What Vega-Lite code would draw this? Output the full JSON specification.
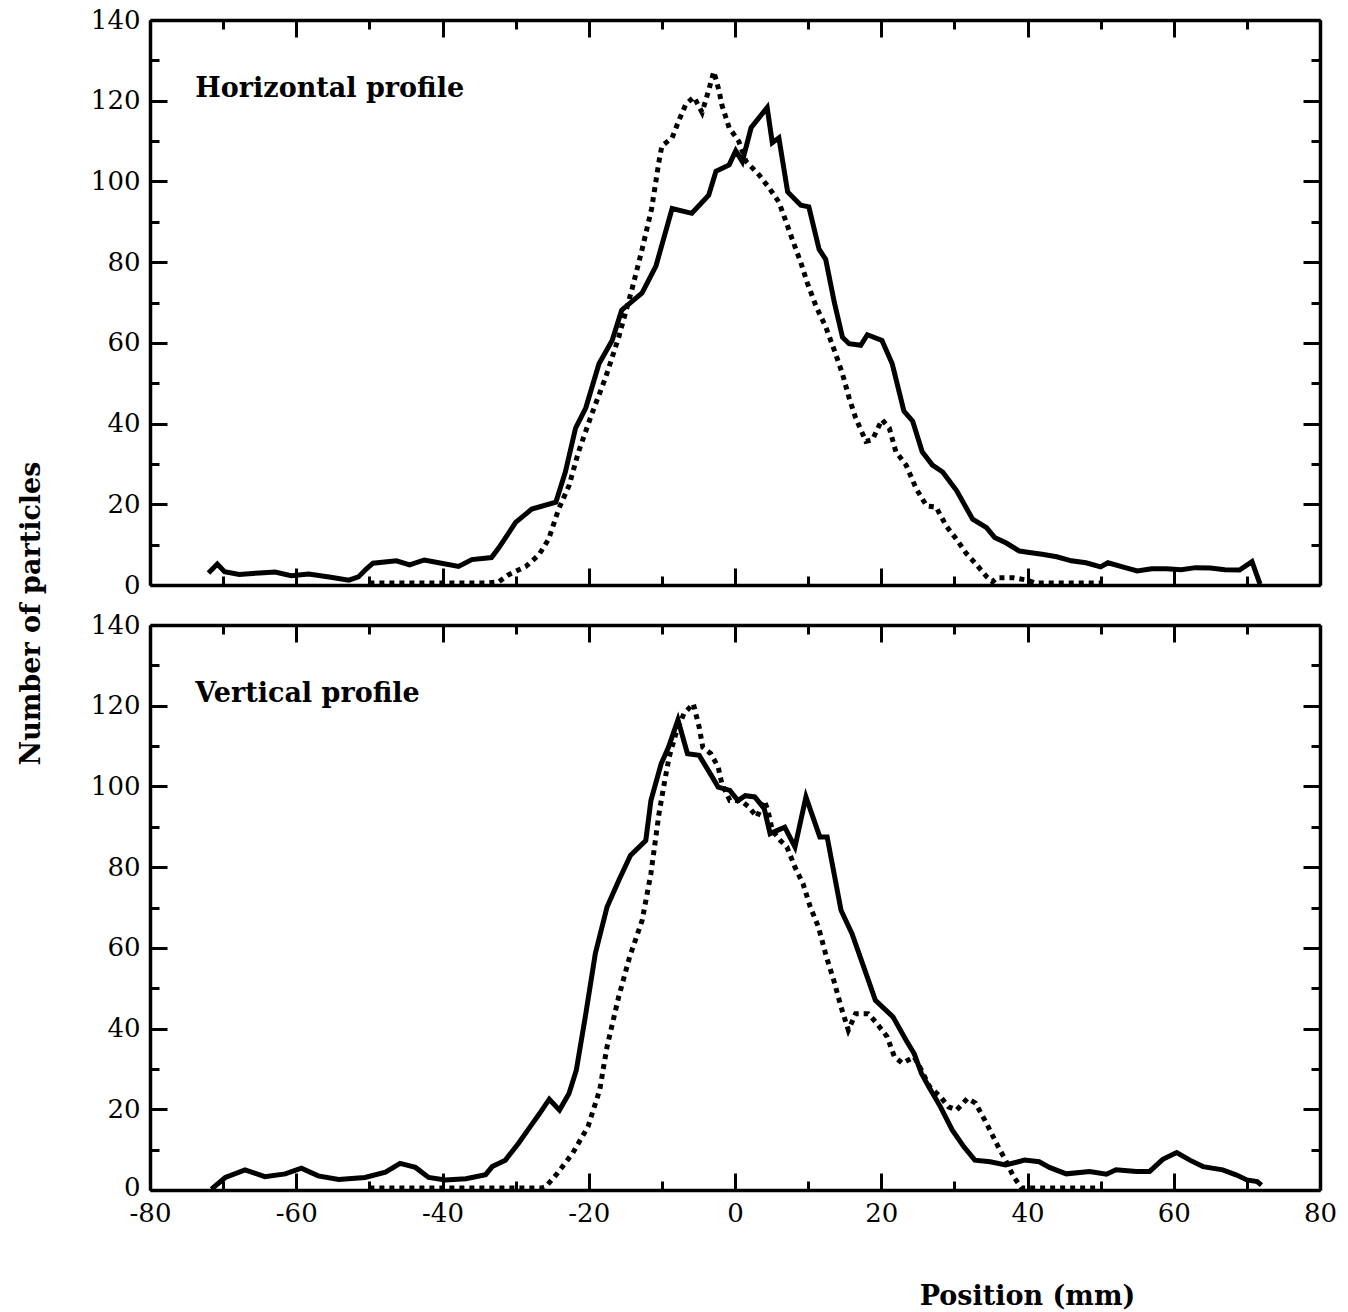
{
  "$schema": "https://vega.github.io/schema/vega-lite/v6.json",
  "padding": {"left": 17, "top": 7, "right": 10, "bottom": 5},
  "background": "white",
  "config": {
    "font": "DejaVu Serif",
    "view": {"stroke": null},
    "line": {"color": "black"},
    "axis": {
      "grid": false,
      "domainColor": "black",
      "domainWidth": 3.5,
      "tickColor": "black",
      "tickWidth": 3,
      "labelColor": "black",
      "labelFont": "DejaVu Serif",
      "labelFontSize": 26,
      "labelFlush": false,
      "labelOverlap": false,
      "labelBound": false,
      "titleFont": "DejaVu Serif",
      "titleFontSize": 27,
      "titleFontWeight": "bold",
      "titleColor": "black"
    }
  },
  "datasets": {
    "hSolid": [
      {"x": -72, "y": 3}, {"x": -70.8, "y": 5.2}, {"x": -69.8, "y": 3.3}, {"x": -67.8, "y": 2.6}, {"x": -65, "y": 3},
      {"x": -62.9, "y": 3.2}, {"x": -60.7, "y": 2.3}, {"x": -58.3, "y": 2.7}, {"x": -55.5, "y": 2}, {"x": -52.8, "y": 1.2},
      {"x": -51.5, "y": 2}, {"x": -50.4, "y": 4}, {"x": -49.5, "y": 5.4}, {"x": -46.3, "y": 6}, {"x": -44.5, "y": 5},
      {"x": -42.5, "y": 6.2}, {"x": -40.5, "y": 5.5}, {"x": -37.8, "y": 4.6}, {"x": -36, "y": 6.3}, {"x": -33.3, "y": 6.8},
      {"x": -32.3, "y": 9.2}, {"x": -30, "y": 15.5}, {"x": -27.8, "y": 18.8}, {"x": -24.5, "y": 20.5}, {"x": -23.2, "y": 28},
      {"x": -21.8, "y": 38.9}, {"x": -20.4, "y": 43.9}, {"x": -18.6, "y": 54.8}, {"x": -16.8, "y": 60.6}, {"x": -15.5, "y": 68.1},
      {"x": -12.7, "y": 72.4}, {"x": -10.8, "y": 79.1}, {"x": -8.6, "y": 93.3}, {"x": -5.9, "y": 92.1}, {"x": -3.6, "y": 96.6},
      {"x": -2.6, "y": 102.5}, {"x": -0.8, "y": 104.1}, {"x": 0.1, "y": 107.6}, {"x": 1.0, "y": 104.9}, {"x": 2.2, "y": 113.3},
      {"x": 4.4, "y": 118.3}, {"x": 5.1, "y": 109.6}, {"x": 6.0, "y": 110.8}, {"x": 7.2, "y": 97.4}, {"x": 9.0, "y": 94.1},
      {"x": 10.1, "y": 93.7}, {"x": 11.5, "y": 83.2}, {"x": 12.4, "y": 80.7}, {"x": 13.6, "y": 69.9}, {"x": 14.7, "y": 61.4},
      {"x": 15.6, "y": 59.8}, {"x": 17.2, "y": 59.4}, {"x": 18.1, "y": 62.0}, {"x": 20.1, "y": 60.6}, {"x": 21.5, "y": 54.8},
      {"x": 23.1, "y": 43.1}, {"x": 24.3, "y": 40.6}, {"x": 25.6, "y": 33.0}, {"x": 27.0, "y": 29.7}, {"x": 28.4, "y": 28.0},
      {"x": 30.3, "y": 23.4}, {"x": 32.5, "y": 16.3}, {"x": 34.4, "y": 14.2}, {"x": 35.5, "y": 11.8}, {"x": 37.1, "y": 10.4},
      {"x": 38.9, "y": 8.4}, {"x": 40.5, "y": 8}, {"x": 42, "y": 7.6}, {"x": 44, "y": 7}, {"x": 46, "y": 6},
      {"x": 48, "y": 5.5}, {"x": 50, "y": 4.5}, {"x": 51, "y": 5.5}, {"x": 53, "y": 4.5}, {"x": 55, "y": 3.5},
      {"x": 57, "y": 4}, {"x": 59, "y": 4}, {"x": 61, "y": 3.8}, {"x": 63, "y": 4.3}, {"x": 65, "y": 4.2},
      {"x": 67, "y": 3.8}, {"x": 69, "y": 3.7}, {"x": 70.7, "y": 5.8}, {"x": 71.8, "y": 0.2}
    ],
    "hDotted": [
      {"x": -50, "y": 0.5}, {"x": -40, "y": 0.5}, {"x": -34, "y": 0.5}, {"x": -32.3, "y": 0.8}, {"x": -31.0, "y": 2.5},
      {"x": -28.6, "y": 4.6}, {"x": -26.8, "y": 7.5}, {"x": -25.5, "y": 11.3}, {"x": -24.1, "y": 18.9}, {"x": -22.7, "y": 24.6},
      {"x": -21.4, "y": 33.0}, {"x": -19.6, "y": 42.3}, {"x": -17.7, "y": 51.4}, {"x": -15.9, "y": 61.4}, {"x": -14.1, "y": 73.2},
      {"x": -12.7, "y": 83.2}, {"x": -11.4, "y": 93.3}, {"x": -10.4, "y": 104.9}, {"x": -10.0, "y": 108.8}, {"x": -8.6, "y": 110.8},
      {"x": -7.7, "y": 115}, {"x": -6.7, "y": 119.2}, {"x": -5.6, "y": 120.9}, {"x": -4.5, "y": 117.1}, {"x": -3.6, "y": 122.6},
      {"x": -2.9, "y": 127.2}, {"x": -2.2, "y": 122.6}, {"x": -1.8, "y": 119}, {"x": -0.8, "y": 113.3}, {"x": 0.5, "y": 110},
      {"x": 1.5, "y": 105}, {"x": 3.3, "y": 101.6}, {"x": 4.7, "y": 98.3}, {"x": 6.0, "y": 94.9}, {"x": 7.0, "y": 89.9},
      {"x": 7.8, "y": 85.8}, {"x": 9.0, "y": 79.9}, {"x": 9.9, "y": 74.8}, {"x": 11.1, "y": 69.0}, {"x": 12.4, "y": 64.0},
      {"x": 13.6, "y": 58.1}, {"x": 14.7, "y": 52.3}, {"x": 15.6, "y": 46.4}, {"x": 16.5, "y": 41.4}, {"x": 17.9, "y": 35.6},
      {"x": 18.8, "y": 36.0}, {"x": 20.1, "y": 41.0}, {"x": 21.1, "y": 38.9}, {"x": 22.0, "y": 33.0}, {"x": 23.4, "y": 29.7},
      {"x": 24.8, "y": 23.8}, {"x": 26.2, "y": 19.6}, {"x": 27.5, "y": 19.3}, {"x": 28.9, "y": 14.6}, {"x": 30.3, "y": 11.3},
      {"x": 31.6, "y": 7.9}, {"x": 33.0, "y": 5.1}, {"x": 34.4, "y": 2.1}, {"x": 35.2, "y": 0.8}, {"x": 35.8, "y": 1.8},
      {"x": 38, "y": 1.8}, {"x": 40, "y": 1.2}, {"x": 41, "y": 0.5}, {"x": 50, "y": 0.5}
    ],
    "vSolid": [
      {"x": -71.6, "y": 0.2}, {"x": -69.7, "y": 3.1}, {"x": -67, "y": 5}, {"x": -64.3, "y": 3.3}, {"x": -61.5, "y": 4},
      {"x": -59.3, "y": 5.4}, {"x": -57, "y": 3.5}, {"x": -54.2, "y": 2.6}, {"x": -50.6, "y": 3.1}, {"x": -47.8, "y": 4.4},
      {"x": -45.8, "y": 6.6}, {"x": -43.7, "y": 5.6}, {"x": -41.9, "y": 3.1}, {"x": -39.6, "y": 2.5}, {"x": -36.8, "y": 2.8},
      {"x": -34.1, "y": 3.8}, {"x": -33.2, "y": 5.8}, {"x": -31.4, "y": 7.4}, {"x": -29.6, "y": 11.6}, {"x": -28.0, "y": 15.7},
      {"x": -26.7, "y": 19.0}, {"x": -25.4, "y": 22.5}, {"x": -24.0, "y": 19.8}, {"x": -22.7, "y": 23.9}, {"x": -21.7, "y": 29.7},
      {"x": -20.4, "y": 43.7}, {"x": -19.1, "y": 58.6}, {"x": -17.5, "y": 70.1}, {"x": -15.9, "y": 76.7}, {"x": -14.3, "y": 82.9},
      {"x": -12.2, "y": 86.6}, {"x": -11.5, "y": 96.5}, {"x": -10.1, "y": 105.6}, {"x": -9.1, "y": 109.7}, {"x": -7.8, "y": 116.5},
      {"x": -6.5, "y": 108.1}, {"x": -4.9, "y": 107.7}, {"x": -3.1, "y": 102.3}, {"x": -2.3, "y": 99.8}, {"x": -0.7, "y": 99.0},
      {"x": 0.4, "y": 96.5}, {"x": 1.4, "y": 97.7}, {"x": 2.7, "y": 97.4}, {"x": 4.0, "y": 94.5}, {"x": 4.8, "y": 88.3},
      {"x": 6.8, "y": 89.9}, {"x": 8.2, "y": 85.0}, {"x": 9.7, "y": 97.4}, {"x": 11.6, "y": 87.5}, {"x": 12.6, "y": 87.5},
      {"x": 14.5, "y": 69.3}, {"x": 16.0, "y": 63.5}, {"x": 17.6, "y": 55.3}, {"x": 19.2, "y": 47.0}, {"x": 21.6, "y": 42.9},
      {"x": 23.4, "y": 37.1}, {"x": 24.5, "y": 33.8}, {"x": 25.5, "y": 28.9}, {"x": 26.5, "y": 25.6}, {"x": 28.1, "y": 20.6},
      {"x": 29.7, "y": 14.9}, {"x": 31.3, "y": 10.7}, {"x": 32.8, "y": 7.4}, {"x": 34.9, "y": 7.0}, {"x": 37.0, "y": 6.2},
      {"x": 39.6, "y": 7.4}, {"x": 41.6, "y": 7.0}, {"x": 43.0, "y": 5.6}, {"x": 45.3, "y": 4.0}, {"x": 48.5, "y": 4.6},
      {"x": 50.8, "y": 3.9}, {"x": 52.1, "y": 5.0}, {"x": 54.9, "y": 4.6}, {"x": 56.7, "y": 4.6}, {"x": 58.5, "y": 7.6},
      {"x": 60.4, "y": 9.3}, {"x": 62.2, "y": 7.4}, {"x": 64.0, "y": 5.8}, {"x": 66.7, "y": 5.0}, {"x": 68.6, "y": 3.7},
      {"x": 70.0, "y": 2.5}, {"x": 71.4, "y": 2.1}, {"x": 72.0, "y": 1.2}
    ],
    "vDotted": [
      {"x": -50, "y": 0.5}, {"x": -30, "y": 0.5}, {"x": -26.4, "y": 0.5}, {"x": -25.9, "y": 0.8}, {"x": -24.3, "y": 4.1},
      {"x": -22.2, "y": 9.1}, {"x": -20.1, "y": 15.7}, {"x": -18.5, "y": 24.8}, {"x": -17.5, "y": 35.5}, {"x": -15.9, "y": 47.9},
      {"x": -14.4, "y": 57.8}, {"x": -12.7, "y": 66.8}, {"x": -11.5, "y": 78.4}, {"x": -10.4, "y": 93.2}, {"x": -9.6, "y": 101.5},
      {"x": -9.0, "y": 107.3}, {"x": -8.1, "y": 113.0}, {"x": -7.0, "y": 118.0}, {"x": -5.7, "y": 120.5}, {"x": -4.9, "y": 114.7},
      {"x": -4.4, "y": 109.7}, {"x": -3.3, "y": 108.1}, {"x": -2.3, "y": 104.8}, {"x": -1.8, "y": 100.7}, {"x": -0.7, "y": 96.5},
      {"x": 0.8, "y": 96.5}, {"x": 1.9, "y": 94.9}, {"x": 3.0, "y": 92.4}, {"x": 4.0, "y": 96.5}, {"x": 4.5, "y": 94.1},
      {"x": 5.1, "y": 89.1}, {"x": 6.2, "y": 86.6}, {"x": 7.1, "y": 85.0}, {"x": 8.2, "y": 80.0}, {"x": 9.3, "y": 75.9},
      {"x": 10.3, "y": 70.1}, {"x": 11.4, "y": 65.2}, {"x": 12.5, "y": 57.8}, {"x": 13.5, "y": 52.0}, {"x": 14.5, "y": 45.4},
      {"x": 15.5, "y": 39.6}, {"x": 16.5, "y": 43.7}, {"x": 18.2, "y": 43.7}, {"x": 19.2, "y": 41.7}, {"x": 20.8, "y": 38.0},
      {"x": 21.8, "y": 33.0}, {"x": 22.9, "y": 31.4}, {"x": 24.5, "y": 33.0}, {"x": 25.5, "y": 29.7}, {"x": 26.6, "y": 25.6},
      {"x": 28.1, "y": 23.1}, {"x": 29.2, "y": 20.6}, {"x": 30.3, "y": 19.8}, {"x": 31.8, "y": 22.7}, {"x": 32.9, "y": 21.5},
      {"x": 34.4, "y": 16.5}, {"x": 36.0, "y": 10.7}, {"x": 37.0, "y": 7.4}, {"x": 38.1, "y": 3.3}, {"x": 39.2, "y": 0.5},
      {"x": 50, "y": 0.5}
    ]
  },
  "vconcat": [
    {
      "width": 1170,
      "height": 565,
      "layer": [
        {
          "data": {"name": "hSolid"},
          "mark": {"type": "line", "color": "black", "strokeWidth": 5, "strokeJoin": "miter"},
          "encoding": {
            "x": {"field": "x", "type": "quantitative", "scale": {"domain": [-80, 80], "nice": false, "zero": false},
              "axis": {"orient": "bottom", "values": [-80,-70,-60,-50,-40,-30,-20,-10,0,10,20,30,40,50,60,70,80], "labels": false, "title": null,
                "tickSize": {"condition": {"test": "datum.value % 20 === 0", "value": -17}, "value": -9}}},
            "y": {"field": "y", "type": "quantitative", "scale": {"domain": [0, 140], "nice": false},
              "axis": {"orient": "left", "values": [0,10,20,30,40,50,60,70,80,90,100,110,120,130,140],
                "labelExpr": "datum.value % 20 === 0 ? '' + datum.value : ''", "labelPadding": 27,
                "tickSize": {"condition": {"test": "datum.value % 20 === 0", "value": -17}, "value": -9},
                "title": "Number of particles", "titleX": -119, "titleY": 593, "titleBaseline": "middle", "titleAngle": -90, "titleAlign": "center"}}
          }
        },
        {
          "data": {"name": "hDotted"},
          "mark": {"type": "line", "color": "black", "strokeWidth": 5, "strokeDash": [5, 5], "strokeCap": "butt"},
          "encoding": {
            "x": {"field": "x", "type": "quantitative", "scale": {"domain": [-80, 80], "nice": false, "zero": false},
              "axis": {"orient": "top", "values": [-80,-70,-60,-50,-40,-30,-20,-10,0,10,20,30,40,50,60,70,80], "labels": false, "title": null,
                "tickSize": {"condition": {"test": "datum.value % 20 === 0", "value": -17}, "value": -9}}},
            "y": {"field": "y", "type": "quantitative", "scale": {"domain": [0, 140], "nice": false},
              "axis": {"orient": "right", "values": [0,10,20,30,40,50,60,70,80,90,100,110,120,130,140], "labels": false, "title": null,
                "tickSize": {"condition": {"test": "datum.value % 20 === 0", "value": -17}, "value": -9}}}
          }
        },
        {
          "data": {"values": [{"x": -73.8, "y": 123, "t": "Horizontal profile"}]},
          "mark": {"type": "text", "align": "left", "baseline": "middle", "fontSize": 27, "fontWeight": "bold", "font": "DejaVu Serif", "color": "black"},
          "encoding": {
            "x": {"field": "x", "type": "quantitative", "axis": null},
            "y": {"field": "y", "type": "quantitative", "axis": null},
            "text": {"field": "t"}
          }
        }
      ],
      "resolve": {"axis": {"x": "independent", "y": "independent"}}
    },
    {
      "width": 1170,
      "height": 565,
      "layer": [
        {
          "data": {"name": "vSolid"},
          "mark": {"type": "line", "color": "black", "strokeWidth": 5, "strokeJoin": "miter"},
          "encoding": {
            "x": {"field": "x", "type": "quantitative", "scale": {"domain": [-80, 80], "nice": false, "zero": false},
              "axis": {"orient": "bottom", "values": [-80,-70,-60,-50,-40,-30,-20,-10,0,10,20,30,40,50,60,70,80],
                "labelExpr": "datum.value % 20 === 0 ? '' + datum.value : ''", "labelPadding": 27,
                "tickSize": {"condition": {"test": "datum.value % 20 === 0", "value": -17}, "value": -9},
                "title": "Position (mm)", "titleX": 877, "titleY": 106, "titleBaseline": "middle", "titleAlign": "center", "titleAnchor": "start"}},
            "y": {"field": "y", "type": "quantitative", "scale": {"domain": [0, 140], "nice": false},
              "axis": {"orient": "left", "values": [0,10,20,30,40,50,60,70,80,90,100,110,120,130,140],
                "labelExpr": "datum.value % 20 === 0 ? '' + datum.value : ''", "labelPadding": 27,
                "labelOffset": {"condition": {"test": "datum.value === 0", "value": -3}, "value": 0},
                "tickSize": {"condition": {"test": "datum.value % 20 === 0", "value": -17}, "value": -9},
                "title": null}}
          }
        },
        {
          "data": {"name": "vDotted"},
          "mark": {"type": "line", "color": "black", "strokeWidth": 5, "strokeDash": [5, 5], "strokeCap": "butt"},
          "encoding": {
            "x": {"field": "x", "type": "quantitative", "scale": {"domain": [-80, 80], "nice": false, "zero": false},
              "axis": {"orient": "top", "values": [-80,-70,-60,-50,-40,-30,-20,-10,0,10,20,30,40,50,60,70,80], "labels": false, "title": null,
                "tickSize": {"condition": {"test": "datum.value % 20 === 0", "value": -17}, "value": -9}}},
            "y": {"field": "y", "type": "quantitative", "scale": {"domain": [0, 140], "nice": false},
              "axis": {"orient": "right", "values": [0,10,20,30,40,50,60,70,80,90,100,110,120,130,140], "labels": false, "title": null,
                "tickSize": {"condition": {"test": "datum.value % 20 === 0", "value": -17}, "value": -9}}}
          }
        },
        {
          "data": {"values": [{"x": -73.8, "y": 123, "t": "Vertical profile"}]},
          "mark": {"type": "text", "align": "left", "baseline": "middle", "fontSize": 27, "fontWeight": "bold", "font": "DejaVu Serif", "color": "black"},
          "encoding": {
            "x": {"field": "x", "type": "quantitative", "axis": null},
            "y": {"field": "y", "type": "quantitative", "axis": null},
            "text": {"field": "t"}
          }
        }
      ],
      "resolve": {"axis": {"x": "independent", "y": "independent"}}
    }
  ],
  "spacing": 40,
  "bounds": "flush"
}
